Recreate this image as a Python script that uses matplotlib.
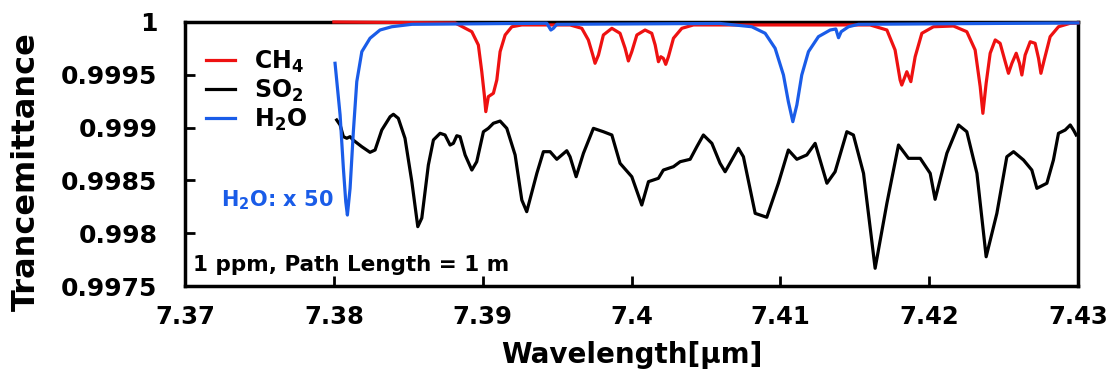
import matplotlib
matplotlib.use("Agg")
import matplotlib.pyplot as plt

plt.rcParams['font.family'] = 'DejaVu Sans'
plt.rcParams['font.weight'] = 'bold'
plt.rcParams['mathtext.default'] = 'bf'

# SO2 transmittance
so2_x = [7.38019, 7.38042, 7.38064, 7.38087, 7.38109, 7.38129, 7.38188, 7.38243, 7.38277, 7.38322,
         7.38378, 7.38400, 7.38433, 7.38478, 7.38524, 7.38564, 7.38591, 7.38635, 7.38669, 7.38714,
         7.38747, 7.38781, 7.38803, 7.38826, 7.38848, 7.38882, 7.38927, 7.38960, 7.39005, 7.39038,
         7.39072, 7.39117, 7.39162, 7.39218, 7.39263, 7.39296, 7.39364, 7.39408, 7.39453, 7.39498,
         7.39532, 7.39565, 7.39587, 7.39628, 7.39677, 7.39744, 7.39811, 7.39868, 7.39923, 7.40002,
         7.40069, 7.40114, 7.40181, 7.40214, 7.40282, 7.40327, 7.40394, 7.40439, 7.40483, 7.40540,
         7.40595, 7.40629, 7.40718, 7.40752, 7.40831, 7.40909, 7.40987, 7.41054, 7.41111, 7.41178,
         7.41234, 7.41313, 7.41368, 7.41447, 7.41491, 7.41559, 7.41637, 7.41716, 7.41794, 7.41861,
         7.41940, 7.42007, 7.42040, 7.42119, 7.42197, 7.42253, 7.42321, 7.42383, 7.42455, 7.42522,
         7.42567, 7.42634, 7.42690, 7.42724, 7.42791, 7.42835, 7.42869, 7.42914, 7.42948, 7.42970,
         7.42988]
so2_y = [0.999072, 0.999025, 0.998914, 0.998899, 0.998914, 0.998883, 0.998819, 0.998766, 0.998788, 0.998977,
         0.999103, 0.999126, 0.999088, 0.998899, 0.998488, 0.998062, 0.998144, 0.998646, 0.998883, 0.998946,
         0.998930, 0.998835, 0.998851, 0.998923, 0.998914, 0.998741, 0.998598, 0.998677, 0.998961, 0.998993,
         0.999041, 0.999062, 0.998993, 0.998741, 0.998314, 0.998204, 0.998567, 0.998772, 0.998772, 0.998700,
         0.998741, 0.998781, 0.998724, 0.998535, 0.998757, 0.998993, 0.998961, 0.998930, 0.998662, 0.998535,
         0.998267, 0.998488, 0.998520, 0.998598, 0.998630, 0.998677, 0.998700, 0.998819, 0.998930, 0.998851,
         0.998662, 0.998582, 0.998804, 0.998724, 0.998188, 0.998151, 0.998473, 0.998788, 0.998700, 0.998741,
         0.998851, 0.998473, 0.998582, 0.998961, 0.998930, 0.998567, 0.997668, 0.998283, 0.998835, 0.998709,
         0.998709, 0.998567, 0.998321, 0.998757, 0.999025, 0.998961, 0.998567, 0.997777, 0.998188, 0.998724,
         0.998772, 0.998693, 0.998598, 0.998425, 0.998473, 0.998693, 0.998946, 0.998977, 0.999025, 0.998977,
         0.998930]

# CH4 transmittance
ch4_x = [7.38000, 7.38815, 7.38927, 7.38971, 7.38994, 7.39011, 7.39021, 7.39038, 7.39072, 7.39095,
         7.39117, 7.39151, 7.39196, 7.39263, 7.39587, 7.39666, 7.39710, 7.39740, 7.39755, 7.39778,
         7.39811, 7.39868, 7.39923, 7.39957, 7.39979, 7.40002, 7.40036, 7.40091, 7.40136, 7.40159,
         7.40181, 7.40197, 7.40214, 7.40230, 7.40248, 7.40282, 7.40338, 7.40416, 7.41603, 7.41716,
         7.41771, 7.41805, 7.41816, 7.41850, 7.41877, 7.41906, 7.41951, 7.42029, 7.42163, 7.42253,
         7.42309, 7.42343, 7.42361, 7.42383, 7.42410, 7.42444, 7.42477, 7.42511, 7.42533, 7.42556,
         7.42585, 7.42607, 7.42623, 7.42645, 7.42679, 7.42712, 7.42735, 7.42751, 7.42773, 7.42813,
         7.42869, 7.42948, 7.43000]
ch4_y = [1.000000, 0.999991, 0.999908, 0.999782, 0.999529, 0.999309, 0.999151, 0.999293, 0.999325, 0.999451,
         0.999719, 0.999877, 0.999955, 0.999972, 0.999972, 0.999940, 0.999830, 0.999687, 0.999609, 0.999687,
         0.999877, 0.999940, 0.999893, 0.999751, 0.999631, 0.999719, 0.999877, 0.999924, 0.999893, 0.999782,
         0.999624, 0.999671, 0.999656, 0.999599, 0.999671, 0.999846, 0.999940, 0.999972, 0.999972, 0.999924,
         0.999735, 0.999451, 0.999403, 0.999529, 0.999435, 0.999671, 0.999893, 0.999955, 0.999962, 0.999908,
         0.999735, 0.999387, 0.999135, 0.999420, 0.999704, 0.999830, 0.999798, 0.999624, 0.999514, 0.999609,
         0.999704, 0.999609, 0.999498, 0.999687, 0.999813, 0.999798, 0.999656, 0.999514, 0.999640, 0.999861,
         0.999955, 0.999988, 0.999991]

# H2O transmittance (scaled x 50)
h2o_x = [7.38008, 7.38042, 7.38064, 7.38080, 7.38091, 7.38109, 7.38131, 7.38154, 7.38188, 7.38243,
         7.38310, 7.38389, 7.38524, 7.39431, 7.39458, 7.39475, 7.39498, 7.40595, 7.40808, 7.40898,
         7.40965, 7.41021, 7.41054, 7.41084, 7.41111, 7.41144, 7.41189, 7.41256, 7.41335, 7.41373,
         7.41391, 7.41409, 7.41458, 7.41525, 7.43000]
h2o_y = [0.999609, 0.999119, 0.998615, 0.998298, 0.998172, 0.998425, 0.998961, 0.999435, 0.999719, 0.999846,
         0.999924, 0.999955, 0.999978, 0.999988, 0.999924, 0.999940, 0.999978, 0.999986, 0.999955, 0.999893,
         0.999751, 0.999498, 0.999245, 0.999056, 0.999214, 0.999498, 0.999719, 0.999861, 0.999924, 0.999934,
         0.999851, 0.999908, 0.999955, 0.999978, 0.999991]

x_ticks = [7.37, 7.38, 7.39, 7.40, 7.41, 7.42, 7.43]
x_tick_labels = ['7.37', '7.38', '7.39', '7.4', '7.41', '7.42', '7.43']
y_ticks = [0.9975, 0.998, 0.9985, 0.999, 0.9995, 1.0]
y_tick_labels = ['0.9975', '0.998', '0.9985', '0.999', '0.9995', '1']

fig = plt.figure(figsize=(11.18, 3.81), dpi=100)
ax = fig.add_axes([0.1655, 0.2493, 0.7987, 0.693])

ax.plot(ch4_x, ch4_y, color='#ee1111', lw=2.3, label='CH$_4$', clip_on=False, zorder=3,
        solid_joinstyle='round')
ax.plot(so2_x, so2_y, color='black', lw=2.3, label='SO$_2$', zorder=3, solid_joinstyle='round')
ax.plot(h2o_x, h2o_y, color='#1a5ce8', lw=2.3, label='H$_2$O', clip_on=False, zorder=4,
        solid_joinstyle='round')

ax.set_xlim(7.37, 7.43)
ax.set_ylim(0.9975, 1.0)
ax.set_xticks(x_ticks)
ax.set_xticklabels(x_tick_labels)
ax.set_yticks(y_ticks)
ax.set_yticklabels(y_tick_labels)
ax.tick_params(direction='in', length=7, width=2, labelsize=17.5, pad=14)
ax.tick_params(axis='y', labelsize=18, pad=20)
for s in ax.spines.values():
    s.set_linewidth(2.5)

ax.set_xlabel('Wavelength[μm]', fontsize=20, fontweight='bold', labelpad=8)
fig.text(0.024, 0.549, 'Trancemittance', rotation=90, fontsize=23, fontweight='bold',
         ha='center', va='center')

ax.legend(loc='upper left', bbox_to_anchor=(0.0, 0.98), frameon=False, fontsize=17,
          handlelength=1.2, handletextpad=0.8, labelspacing=0.12, borderaxespad=0.5)

ax.text(0.04, 0.326, 'H$_2$O: x 50', transform=ax.transAxes, color='#1a5ce8',
        fontsize=15, fontweight='bold', ha='left', va='center')
ax.text(0.009, 0.08, '1 ppm, Path Length = 1 m', transform=ax.transAxes, color='black',
        fontsize=15.5, fontweight='bold', ha='left', va='center')

fig.savefig('out.png', dpi=100)
